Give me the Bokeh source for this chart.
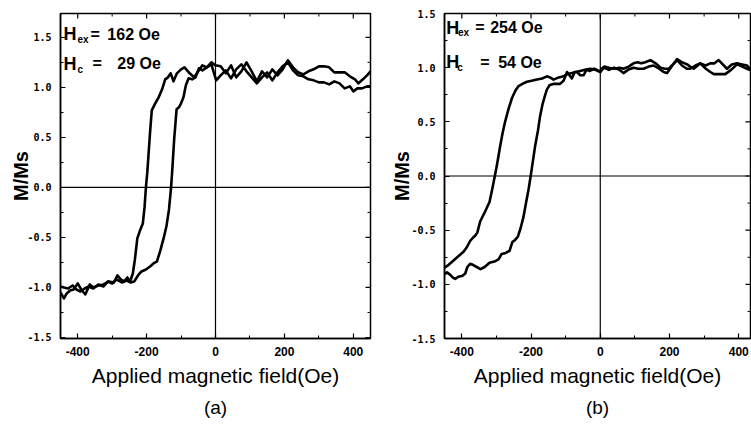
import math
from bokeh.plotting import figure
from bokeh.models import Span, Label, Title, FixedTicker, NumeralTickFormatter, Range1d, AllLabels
from bokeh.layouts import row
from bokeh.embed import file_html
from bokeh.resources import INLINE

# ---------------- data ----------------
# panel (a): descending branch (from +H to -H)
a_desc_x = [450, 440, 428, 415, 405, 390, 375, 360, 345, 330, 315, 300, 285, 270, 255, 240, 225, 210, 195, 180,
            165, 150, 135, 120, 105, 90, 75, 60, 45, 30, 15, 0, -12, -25, -38, -50, -62, -75, -90, -100,
            -112, -122, -130, -138, -146, -155, -165, -175, -185, -190, -195, -198, -202, -206, -211, -218,
            -227, -234, -240, -248, -256, -265, -275, -285, -295, -310, -325, -340, -355, -365, -378, -390,
            -400, -412, -422, -432, -440, -450]
a_desc_y = [1.16, 1.12, 1.08, 1.04, 1.08, 1.11, 1.15, 1.15, 1.15, 1.20, 1.21, 1.21, 1.18, 1.16, 1.13, 1.15, 1.20, 1.27, 1.18, 1.12,
            1.18, 1.10, 1.16, 1.06, 1.16, 1.25, 1.16, 1.10, 1.22, 1.14, 1.21, 1.22, 1.25, 1.20, 1.22, 1.16, 1.10, 1.14, 1.20, 1.18,
            1.14, 1.06, 1.14, 1.10, 1.08, 0.98, 0.90, 0.84, 0.77, 0.55, 0.30, 0.15, 0.0, -0.20, -0.36, -0.42,
            -0.51, -0.72, -0.86, -0.94, -0.90, -0.94, -0.92, -0.88, -0.95, -0.94, -0.97, -0.98, -1.00, -0.97, -1.07, -1.02,
            -0.96, -1.02, -1.03, -1.06, -1.11, -1.05]
# panel (a): ascending branch (from -H to +H)
a_asc_x = [-450, -440, -428, -415, -404, -392, -380, -368, -355, -340, -325, -312, -300, -288, -272, -258, -246, -236,
           -225, -215, -202, -190, -180, -170, -160, -150, -142, -135, -129, -125, -120, -113, -106, -100, -93, -86,
           -78, -68, -58, -48, -38, -25, -12, 2, 15, 30, 45, 60, 75, 90, 105, 120, 135, 150, 165, 180, 195, 210,
           225, 240, 255, 270, 285, 300, 315, 330, 345, 360, 375, 390, 400, 412, 425, 440, 450]
a_asc_y = [-0.99, -1.00, -1.01, -0.98, -1.02, -1.04, -1.01, -0.99, -1.01, -0.97, -0.99, -0.94, -0.96, -0.92, -0.95, -0.93, -0.95, -0.94,
           -0.88, -0.84, -0.82, -0.79, -0.76, -0.74, -0.63, -0.50, -0.38, -0.22, 0.0, 0.20, 0.48, 0.78, 0.80, 0.84, 0.90, 1.02,
           1.09, 1.08, 1.10, 1.19, 1.17, 1.20, 1.23, 1.07, 1.12, 1.17, 1.09, 1.18, 1.23, 1.16, 1.10, 1.04, 1.10, 1.15, 1.07, 1.15, 1.21, 1.25,
           1.17, 1.12, 1.11, 1.08, 1.07, 1.05, 1.05, 1.03, 1.06, 1.04, 0.99, 1.01, 0.96, 0.99, 0.99, 1.01, 1.01]

# panel (b): descending branch
b_desc_x = [450, 435, 424, 410, 395, 380, 366, 354, 342, 330, 318, 304, 289, 278, 270, 260, 251, 236, 222, 210,
            198, 186, 174, 160, 145, 130, 118, 108, 96, 82, 67, 55, 40, 25, 12, 3, 0, -14, -29, -44,
            -58, -70, -82, -96, -106, -120, -135, -145, -154, -168, -183, -198, -212, -225, -236, -245, -255, -265,
            -275, -282, -289, -297, -304, -312, -320, -333, -347, -355, -361, -368, -376, -386, -395, -410, -424, -438, -452]
b_desc_y = [0.99, 0.98, 1.02, 1.03, 1.04, 1.03, 0.99, 1.03, 1.07, 1.04, 1.04, 1.02, 1.04, 1.01, 0.99, 1.01, 1.03, 1.05, 1.08, 1.03,
            0.99, 0.99, 1.00, 1.04, 1.07, 1.05, 1.04, 1.05, 1.04, 1.01, 0.99, 1.00, 0.99, 1.00, 1.01, 0.99, 0.96, 0.98, 0.99, 0.98,
            0.97, 0.96, 0.95, 0.94, 0.92, 0.91, 0.89, 0.91, 0.92, 0.90, 0.89, 0.88, 0.87, 0.85, 0.83, 0.79, 0.72, 0.62,
            0.50, 0.40, 0.28, 0.13, 0.01, -0.12, -0.24, -0.33, -0.42, -0.52, -0.55, -0.57, -0.60, -0.66, -0.70, -0.74, -0.78, -0.82, -0.85]
# panel (b): ascending branch
b_asc_x = [-452, -443, -434, -425, -419, -410, -398, -390, -384, -376, -368, -357, -346, -334, -320, -306, -294, -285,
           -273, -262, -254, -246, -238, -230, -222, -214, -207, -201, -195, -188, -180, -174, -167, -160, -154, -146,
           -135, -125, -116, -106, -96, -89, -82, -74, -67, -58, -48, -40, -30, -18, -10, 0, 10, 25, 40, 55, 67, 80,
           96, 110, 125, 140, 154, 170, 183, 193, 208, 222, 236, 250, 260, 275, 289, 305, 318, 328, 345, 361, 378,
           395, 410, 424, 440, 450]
b_asc_y = [-0.91, -0.89, -0.91, -0.94, -0.95, -0.93, -0.92, -0.90, -0.84, -0.81, -0.82, -0.84, -0.86, -0.84, -0.80, -0.79, -0.77, -0.72,
           -0.71, -0.69, -0.61, -0.59, -0.56, -0.48, -0.38, -0.24, -0.12, 0.0, 0.13, 0.28, 0.42, 0.55, 0.66, 0.74, 0.80, 0.84,
           0.85, 0.85, 0.85, 0.88, 0.96, 0.93, 0.90, 0.96, 0.96, 0.93, 0.93, 0.98, 0.97, 0.99, 0.98, 0.96, 1.00, 0.98, 1.00, 0.98, 0.95, 0.98,
           1.00, 0.99, 0.99, 1.01, 1.02, 0.99, 0.96, 0.95, 1.02, 1.07, 1.02, 0.99, 0.99, 1.02, 1.04, 0.99, 0.96, 0.94, 0.94, 0.94, 0.98,
           1.03, 1.01, 0.99, 0.97, 0.98]

x_major = [-400, -200, 0, 200, 400]
x_minor = [-400, -300, -200, -100, 0, 100, 200, 300, 400]
y_major = [-1.5, -1.0, -0.5, 0.0, 0.5, 1.0, 1.5]
y_minor = [-1.5, -1.25, -1.0, -0.75, -0.5, -0.25, 0.0, 0.25, 0.5, 0.75, 1.0, 1.25, 1.5]

hex_a, hc_a = "162 Oe", "29 Oe"
hex_b, hc_b = "254 Oe", "54 Oe"

SANS = "Liberation Sans"
MONO = "DejaVu Sans Mono"


def make_panel(width, xr, yr, mb_left, mb_right, mb_top, tag, desc, asc, ann, ylab_standoff):
    p = figure(width=width, height=425, x_range=Range1d(*xr), y_range=Range1d(*yr),
               output_backend="svg", toolbar_location=None,
               min_border_left=mb_left, min_border_right=mb_right,
               min_border_top=mb_top, min_border_bottom=87)
    p.xgrid.visible = False
    p.ygrid.visible = False
    p.outline_line_color = "black"
    p.outline_line_width = 1.5
    p.background_fill_color = "white"
    p.border_fill_color = "white"

    x0, x1 = xr
    y0, y1 = yr

    xa = p.xaxis[0]
    ya = p.yaxis[0]
    xa.ticker = FixedTicker(ticks=x_major, minor_ticks=x_minor)
    xa.formatter = NumeralTickFormatter(format="0")
    ya.ticker = FixedTicker(ticks=y_major, minor_ticks=y_minor)
    ya.formatter = NumeralTickFormatter(format="0.0")
    for ax in (xa, ya):
        ax.axis_line_color = "black"
        ax.axis_line_width = 1.5
        ax.major_tick_in = 5
        ax.major_tick_out = 0
        ax.minor_tick_in = 3
        ax.minor_tick_out = 0
        ax.major_tick_line_width = 1.2
        ax.minor_tick_line_width = 1
        ax.major_label_text_color = "black"
        ax.major_label_policy = AllLabels()

    # inward ticks on the top and right edges (mirror of the bottom/left tickers)
    xmaj = [v for v in x_major if x0 <= v <= x1]
    xmin = [v for v in x_minor if x0 <= v <= x1 and v not in x_major]
    p.ray(x=xmaj, y=[y1] * len(xmaj), length=5, angle=-math.pi / 2, length_units="screen",
          line_color="black", line_width=1.2)
    p.ray(x=xmin, y=[y1] * len(xmin), length=3, angle=-math.pi / 2, length_units="screen",
          line_color="black", line_width=1)
    ymaj = list(y_major)
    ymin = [v for v in y_minor if v not in y_major]
    p.ray(x=[x1] * len(ymaj), y=ymaj, length=5, angle=math.pi, length_units="screen",
          line_color="black", line_width=1.2)
    p.ray(x=[x1] * len(ymin), y=ymin, length=3, angle=math.pi, length_units="screen",
          line_color="black", line_width=1)

    xa.major_label_text_font = SANS
    xa.major_label_text_font_style = "bold"
    xa.major_label_text_font_size = "12px"
    xa.major_label_standoff = 8
    xa.axis_label = "Applied magnetic field(Oe)"
    xa.axis_label_text_font = SANS
    xa.axis_label_text_font_style = "normal"
    xa.axis_label_text_font_size = "21px"
    xa.axis_label_text_color = "black"
    xa.axis_label_standoff = 5

    ya.major_label_text_font = MONO
    ya.major_label_text_font_style = "bold"
    ya.major_label_text_font_size = "10px"
    ya.major_label_standoff = 9
    ya.axis_label = "M/Ms"
    ya.axis_label_text_font = SANS
    ya.axis_label_text_font_style = "bold"
    ya.axis_label_text_font_size = "20px"
    ya.axis_label_text_color = "black"
    ya.axis_label_standoff = ylab_standoff

    p.add_layout(Title(text=tag, align="center", text_font=SANS, text_font_size="19px",
                       text_font_style="normal", text_color="black"), "below")

    p.add_layout(Span(location=0, dimension="width", line_color="black", line_width=1.2))
    p.add_layout(Span(location=0, dimension="height", line_color="black", line_width=1.2))

    p.line(desc[0], desc[1], line_color="black", line_width=2.6, line_join="round")
    p.line(asc[0], asc[1], line_color="black", line_width=2.6, line_join="round")

    for (x, y, t, size) in ann:
        p.add_layout(Label(x=x, y=y, text=t, text_font=SANS, text_font_style="bold",
                           text_font_size=size, text_color="black", text_baseline="alphabetic",
                           text_align="left"))
    return p


ann_a = [(-441, 1.531, "H", "18px"), (-401, 1.475, "ex", "10px"), (-363, 1.531, "=", "16px"),
         (-314, 1.531, hex_a, "16px"),
         (-441, 1.234, "H", "18px"), (-401, 1.174, "c", "10px"), (-357, 1.234, "=", "16px"),
         (-285, 1.234, hc_a, "16px")]
ann_b = [(-445, 1.37, "H", "18px"), (-411, 1.324, "ex", "10px"), (-361, 1.37, "=", "16px"),
         (-318, 1.37, hex_b, "16px"),
         (-445, 1.05, "H", "18px"), (-413, 1.003, "c", "10px"), (-347, 1.05, "=", "16px"),
         (-295, 1.05, hc_b, "16px")]

p1 = make_panel(385, (-450, 450), (-1.51, 1.738), 60, 15, 10, "(a)",
                (a_desc_x, a_desc_y), (a_asc_x, a_asc_y), ann_a, -8)
p2 = make_panel(366, (-450, 434), (-1.5, 1.5), 59, 1, 13, "(b)",
                (b_desc_x, b_desc_y), (b_asc_x, b_asc_y), ann_b, -5)

layout = row(p1, p2)
open("out.html", "w").write(file_html(layout, INLINE))
